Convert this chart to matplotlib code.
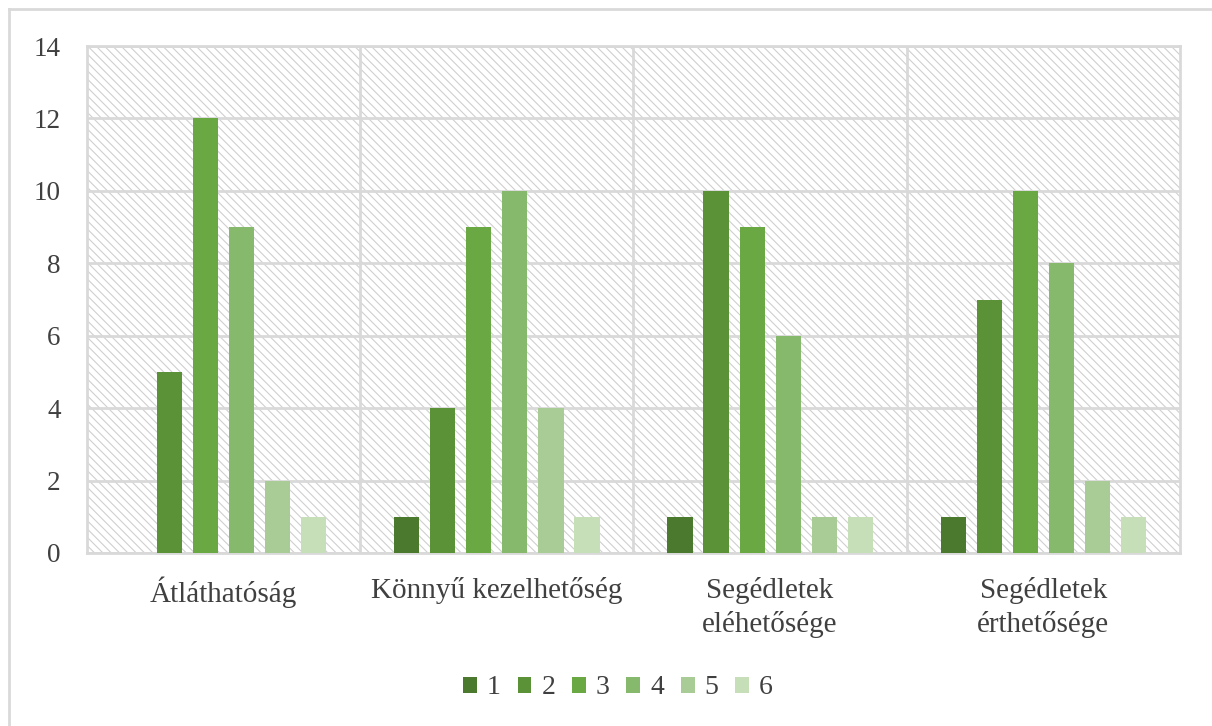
import matplotlib
matplotlib.use("Agg")
import matplotlib.pyplot as plt
import numpy as np
from matplotlib.lines import Line2D
from matplotlib.patches import Rectangle

categories = ["Átláthatóság", "Könnyű kezelhetőség", "Segédletek\neléhetősége", "Segédletek\nérthetősége"]
series_labels = ["1", "2", "3", "4", "5", "6"]
values = {
    "1": [0, 1, 1, 1],
    "2": [5, 4, 10, 7],
    "3": [12, 9, 9, 10],
    "4": [9, 10, 6, 8],
    "5": [2, 4, 1, 2],
    "6": [1, 1, 1, 1],
}
colors = ["#4b7a2f", "#5b9238", "#6aa843", "#86b96b", "#a9cc97", "#c6dfb9"]
yticks = [0, 2, 4, 6, 8, 10, 12, 14]

plt.rcParams["font.family"] = ["Liberation Serif", "DejaVu Serif"]
plt.rcParams["hatch.color"] = "#cfcfcf"
plt.rcParams["hatch.linewidth"] = 0.8

fig = plt.figure(figsize=(12.12, 7.26), dpi=100)
ax = fig.add_axes([87/1212, 1-553/726, (1180-87)/1212, (553-46)/726])

# hatched background
bg = Rectangle((0, 0), 1, 1, transform=ax.transAxes, facecolor="white",
               edgecolor="#cfcfcf", hatch="\\\\\\\\", linewidth=0, zorder=0)
ax.add_patch(bg)

n = len(series_labels)
x = np.arange(len(categories))
step = 0.132
width = 0.092
for i, s in enumerate(series_labels):
    offs = (i - (n - 1) / 2) * step
    ax.bar(x + offs, values[s], width=width, color=colors[i], label=s, zorder=3)

ax.set_xlim(-0.5, len(categories) - 0.5)
ax.set_ylim(0, 14)
ax.set_yticks(yticks)
ax.set_yticklabels([str(t) for t in yticks], fontsize=19.5, color="#404040")
ax.set_xticks(x)
ax.set_xticklabels(categories, fontsize=21, color="#404040", linespacing=1.35)
ax.tick_params(axis="both", length=0)
ax.tick_params(axis="y", pad=19)
ax.tick_params(axis="x", pad=17)

ax.grid(axis="y", color="#d9d9d9", linewidth=2, zorder=1)
for b in np.arange(0.5, len(categories) - 0.5, 1):
    ax.axvline(b, color="#d9d9d9", linewidth=2, zorder=1)
for sp in ax.spines.values():
    sp.set_color("#d9d9d9")
    sp.set_linewidth(2)
ax.set_axisbelow(True)

leg = fig.legend(loc="center", bbox_to_anchor=(618/1212, 1-688/726), ncol=6,
                 frameon=False, fontsize=20, handlelength=0.5, handleheight=0.5,
                 handletextpad=0.36, columnspacing=0.6)
for t in leg.get_texts():
    t.set_color("#404040")

# outer border (top and left visible)
fig.add_artist(Line2D([9/1212, 1], [1-9/726, 1-9/726], transform=fig.transFigure, color="#d9d9d9", linewidth=2))
fig.add_artist(Line2D([9/1212, 9/1212], [0, 1-9/726], transform=fig.transFigure, color="#d9d9d9", linewidth=2))

fig.savefig("out.png", dpi=100)
